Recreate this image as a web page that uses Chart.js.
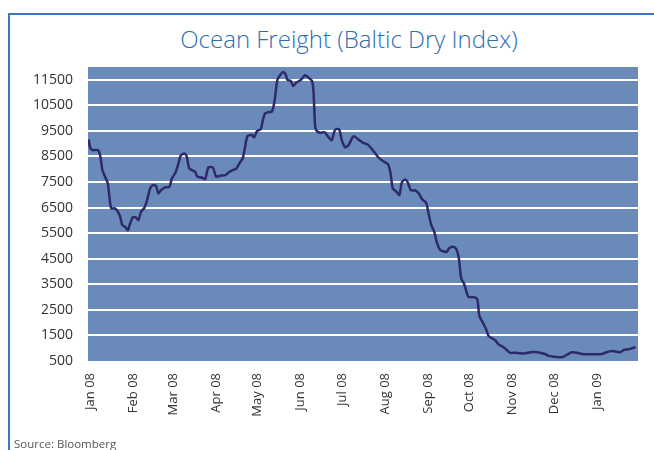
<!DOCTYPE html>
<html>
<head>
<meta charset="utf-8">
<script src="https://cdn.jsdelivr.net/npm/chart.js@4/dist/chart.umd.min.js"></script>
<style>
  html, body { margin: 0; padding: 0; background: #fff; }
  #wrap { position: relative; width: 654px; height: 450px; overflow: hidden; }
  #frame { position: absolute; left: 8px; top: 13px; right: -4px; bottom: -4px;
           border-left: 2px solid #3C78C0; border-top: 2px solid #3C78C0; }
  #title { position: absolute; left: 0; width: 698px; top: 22px; text-align: center;
           font-family: "Open Sans", sans-serif; font-weight: 300; font-size: 24px;
           color: #2E6EB5; line-height: 34px; }
  #source { position: absolute; left: 14px; top: 436px; font-family: "Open Sans", sans-serif;
            font-size: 11.5px; color: #555; }
  canvas { position: absolute; left: 0; top: 0; }
</style>
</head>
<body>
<div id="wrap">
  <div id="frame"></div>
  <div id="title">Ocean Freight (Baltic Dry Index)</div>
  <canvas id="c" width="654" height="450"></canvas>
  <div id="source">Source: Bloomberg</div>
</div>
<script>
// Days since 1 Jan 2008
const days = [
  -1, 0, 1.7, 5.6, 7.2, 8.9, 10.8, 12.8, 15.2, 18, 20, 21.7, 23.3, 25.3, 27.2, 28.9,
  30.8, 33, 34.9, 36.8, 39.2, 41.2, 43.3, 45.3, 47.6, 49.3, 51.3, 54.2, 57.3, 59, 61.4,
  63.8, 65.5, 68.1, 69.8, 71.5, 73.4, 75.8, 77.5, 80.6, 83, 85.4, 88.6, 91, 93.9, 97.5,
  100.6, 103, 105.4, 107.8, 110.2, 111.9, 113.6, 116.7, 118.4, 120.4, 123.2, 124.7,
  126.4, 129.5, 131.2, 132.9, 135.2, 137.2, 139.2, 141.2, 142.5, 144.8, 146.6, 149.1,
  152, 155.2, 157.6, 160.1, 161.2, 162.5, 163.9, 166.1, 169.1, 171.8, 174.4, 176.9,
  179.8, 181.7, 184.1, 186.6, 190.1, 193.7, 197.1, 200.4, 204, 207.7, 210.8, 215,
  216.8, 218.5, 221.1, 223.3, 225, 227.4, 229.2, 231.5, 234.7, 237.2, 239.7, 242.6,
  244.3, 246.2, 248.4, 250.5, 252.7, 255.1, 257.4, 259.4, 262.1, 264.3, 266.1, 267.9,
  270, 272, 273.1, 278, 279.6, 281, 283.5, 285.9, 287.6, 290, 292.4, 294.8, 298.2,
  300.8, 303.2, 306.9, 310.5, 314, 317.7, 321.3, 324.9, 328.5, 330.9, 334.5, 338.1,
  341.7, 344.6, 347.8, 351.4, 355, 359.8, 364.6, 369.4, 372.6, 376.7, 380.3, 382.7,
  385.1, 388.7, 391.1, 393.7
];
const bdi = [
  9170, 8860, 8750, 8750, 8560, 7970, 7710, 7450, 6470, 6470, 6340, 6140, 5820, 5750, 5620, 5880,
  6120, 6120, 6010, 6340, 6490, 6800, 7250, 7380, 7340, 7060, 7190, 7290, 7320, 7640, 7840,
  8230, 8540, 8620, 8490, 8040, 7970, 7900, 7710, 7680, 7620, 8070, 8070, 7710, 7750, 7770,
  7900, 7970, 8020, 8230, 8430, 8880, 9300, 9340, 9250, 9490, 9570, 9920,
  10190, 10240, 10250, 10580, 11490, 11680, 11800, 11700, 11490, 11460, 11260, 11400,
  11490, 11680, 11590, 11460, 11100, 9660, 9480, 9430, 9450, 9280, 9140, 9550,
  9560, 9140, 8860, 8950, 9290, 9160, 9035, 8970, 8750, 8490, 8340, 8200,
  7870, 7250, 7120, 7000, 7480, 7600, 7500, 7186, 7170, 7060, 6830, 6680,
  6280, 5830, 5560, 5100, 4840, 4790, 4770, 4920, 4970, 4880, 4550, 3734,
  3510, 3150, 3010, 2990, 2890, 2260, 2000, 1740, 1480, 1390, 1310, 1150, 1050,
  930, 820, 825, 800, 800, 840, 852, 825, 774, 700, 668, 645,
  668, 762, 840, 825, 774, 762, 765, 774, 840, 891, 864, 840,
  930, 957, 997, 1036
];
const monthTickDays = [0, 31, 60, 91, 121, 152, 182, 213, 244, 274, 305, 335, 366];
const monthLabels = ["Jan 08", "Feb 08", "Mar 08", "Apr 08", "May 08", "Jun 08", "Jul 08",
                     "Aug 08", "Sep 08", "Oct 08", "Nov 08", "Dec 08", "Jan 09"];
const yTicks = [500, 1500, 2500, 3500, 4500, 5500, 6500, 7500, 8500, 9500, 10500, 11500];

const bgPlugin = {
  id: 'plotBg',
  beforeDraw(chart) {
    const a = chart.chartArea, ctx = chart.ctx;
    ctx.save();
    ctx.fillStyle = '#6A8BBA';
    ctx.fillRect(a.left, a.top, a.right - a.left, a.bottom - a.top);
    ctx.restore();
  }
};

new Chart(document.getElementById('c'), {
  type: 'line',
  data: {
    datasets: [{
      data: days.map((d, i) => ({ x: d, y: bdi[i] })),
      borderColor: '#2D2A6C',
      borderWidth: 2.5,
      pointRadius: 0,
      tension: 0.25,
      fill: false
    }]
  },
  options: {
    responsive: false,
    animation: false,
    layout: { padding: { left: 0, right: 16, top: 67, bottom: 0 } },
    plugins: { legend: { display: false }, tooltip: { enabled: false }, title: { display: false } },
    scales: {
      x: {
        type: 'linear',
        min: -1.5,
        max: 395.5,
        afterBuildTicks(scale) { scale.ticks = monthTickDays.map(v => ({ value: v })); },
        afterFit(scale) { scale.height = 89; },
        grid: { display: false, drawTicks: false },
        border: { display: false },
        ticks: {
          autoSkip: false,
          minRotation: 90,
          maxRotation: 90,
          padding: 12,
          color: '#333',
          font: { family: '"Open Sans", sans-serif', size: 13 },
          callback(value, index) { return monthLabels[index]; }
        }
      },
      y: {
        min: 500,
        max: 12000,
        afterBuildTicks(scale) { scale.ticks = yTicks.map(v => ({ value: v })); },
        afterFit(scale) { scale.width = 88; },
        grid: {
          drawTicks: false,
          lineWidth: 2,
          color(ctx) { return (ctx.tick && ctx.tick.value === 500) ? 'rgba(0,0,0,0)' : '#FFFFFF'; }
        },
        border: { display: false },
        ticks: {
          padding: 15,
          color: '#333',
          font: { family: '"Open Sans", sans-serif', size: 14 },
          callback(value) { return String(value); }
        }
      }
    }
  },
  plugins: [bgPlugin]
});
</script>
</body>
</html>
